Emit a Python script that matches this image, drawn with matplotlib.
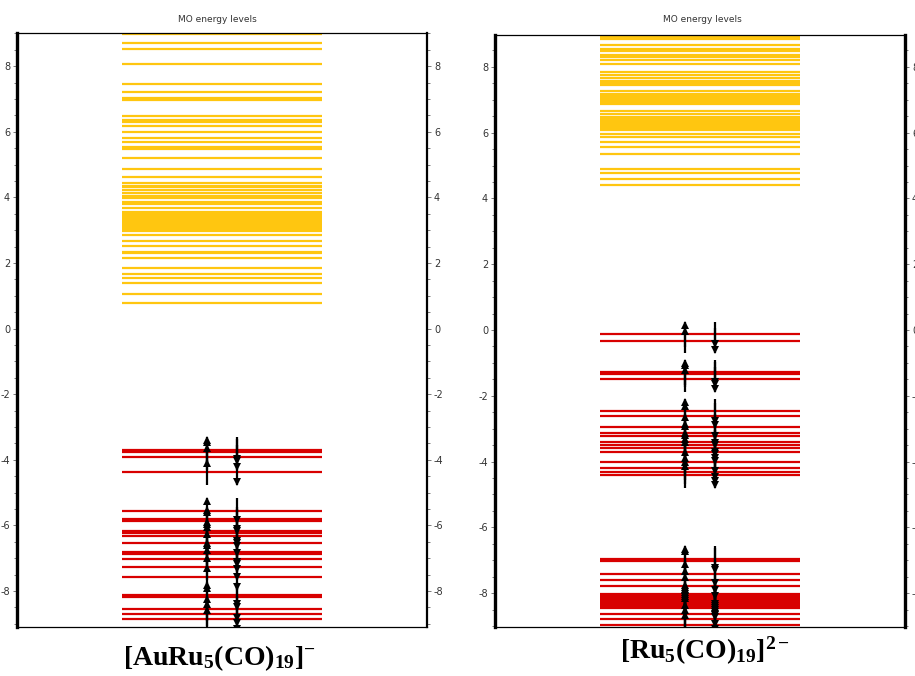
import matplotlib
matplotlib.use("Agg")
import matplotlib.pyplot as plt
from matplotlib.ticker import MultipleLocator

# ---------------- data (eV) ----------------
left_virtual = [8.99, 8.70, 8.51, 8.05, 7.45, 7.20, 7.03, 6.97, 6.48, 6.37, 6.30,
                6.17, 6.00, 5.80, 5.70, 5.52, 5.46, 5.21, 4.86, 4.63, 4.44, 4.36,
                4.30, 4.22, 4.12, 4.04, 3.97, 3.87, 3.79, 3.66, 3.56, 3.50, 3.44,
                3.38, 3.32, 3.26, 3.20, 3.14, 3.08, 3.02, 2.96, 2.85, 2.67, 2.52,
                2.34, 2.29, 2.14, 1.85, 1.66, 1.55, 1.38, 1.04, 0.79]
left_occupied = [-3.70, -3.76, -3.93, -4.38, -5.56, -5.81, -5.87, -6.18, -6.24,
                 -6.33, -6.55, -6.82, -6.88, -7.04, -7.28, -7.59, -8.12, -8.20,
                 -8.54, -8.70, -8.87]

right_virtual = [8.92, 8.85, 8.67, 8.54, 8.47, 8.37, 8.29, 8.22, 8.09, 7.83, 7.76,
                 7.66, 7.58, 7.52, 7.46, 7.28, 7.18, 7.12, 7.06, 7.00, 6.94, 6.88,
                 6.67, 6.56, 6.49, 6.43, 6.37, 6.31, 6.25, 6.19, 6.13, 6.09, 5.95,
                 5.86, 5.71, 5.56, 5.36, 4.89, 4.77, 4.60, 4.41]
right_occupied = [-0.13, -0.33, -1.28, -1.34, -1.50, -2.47, -2.60, -2.94, -3.14,
                  -3.22, -3.41, -3.49, -3.60, -3.70, -4.01, -4.19, -4.31, -4.42,
                  -6.95, -7.02, -7.41, -7.61, -7.79, -8.03, -8.09, -8.15, -8.21,
                  -8.27, -8.33, -8.39, -8.45, -8.64, -8.80, -8.96]

titles = ["MO energy levels", "MO energy levels"]
labels = [r"$\mathbf{[AuRu_5(CO)_{19}]^{-}}$", r"$\mathbf{[Ru_5(CO)_{19}]^{2-}}$"]
ticks = [-8, -6, -4, -2, 0, 2, 4, 6, 8]

YELLOW = "#FFC610"
RED = "#D80000"

plt.rcParams["axes.unicode_minus"] = False
plt.rcParams["mathtext.fontset"] = "custom"
plt.rcParams["mathtext.rm"] = "Liberation Serif"
plt.rcParams["mathtext.bf"] = "Liberation Serif:bold"
plt.rcParams["mathtext.it"] = "Liberation Serif:italic"

fig = plt.figure(figsize=(9.15, 6.76), dpi=100)

panels = [
    dict(rect=[17/915, 1-627/676, 410/915, 594/676], ylim=(-9.1, 9.01),
         virt=left_virtual, occ=left_occupied, label_xy=(0.24, 0.004),
         title_y=1-19/676, title_x=217/915),
    dict(rect=[495/915, 1-627/676, 410/915, 592/676], ylim=(-9.03, 8.97),
         virt=right_virtual, occ=right_occupied, label_xy=(0.77, 0.014),
         title_y=1-20/676, title_x=702/915),
]

X_UP, X_DN = 0.463, 0.537
D = 0.38        # half-length of spin arrows (eV)
HEAD = 0.09     # offset of arrowhead marker centre from tip (eV)

for i, p in enumerate(panels):
    ax = fig.add_axes(p["rect"])
    ax.set_xlim(0, 1)
    ax.set_ylim(*p["ylim"])
    ax.hlines(p["virt"], 0.255, 0.745, colors=YELLOW, lw=1.6)
    ax.hlines(p["occ"], 0.255, 0.745, colors=RED, lw=1.6)
    occ = p["occ"]
    ax.vlines([X_UP] * len(occ), [e - D for e in occ], [e + D for e in occ],
              colors="black", lw=1.6, zorder=3)
    ax.vlines([X_DN] * len(occ), [e - D for e in occ], [e + D for e in occ],
              colors="black", lw=1.6, zorder=3)
    ax.plot([X_UP] * len(occ), [e + D - HEAD for e in occ], ls="none", marker="^",
            ms=5.5, color="black", mew=0, zorder=4)
    ax.plot([X_DN] * len(occ), [e - D + HEAD for e in occ], ls="none", marker="v",
            ms=5.5, color="black", mew=0, zorder=4)
    ax.set_xticks([])
    ax.set_yticks(ticks)
    ax.yaxis.set_minor_locator(MultipleLocator(0.5))
    ax.tick_params(axis="y", which="both", direction="out", left=True, right=True,
                   labelleft=True, labelright=True, colors="#666666",
                   labelcolor="#333333", labelsize=7, length=3, width=0.6)
    ax.tick_params(axis="y", which="minor", length=2)
    ax.tick_params(axis="y", pad=2)
    for s in ["top", "bottom"]:
        ax.spines[s].set_linewidth(0.9)
    ax.spines["left"].set_linewidth(2.4)
    ax.spines["right"].set_linewidth(1.6 if i == 0 else 2.4)
    fig.text(p["title_x"], p["title_y"], titles[i], ha="center", va="center",
             fontsize=6.5, color="#333333")
    fig.text(p["label_xy"][0], p["label_xy"][1], labels[i], ha="center", va="bottom",
             fontsize=20, color="black")

fig.savefig("out.png", dpi=100, facecolor="white")
